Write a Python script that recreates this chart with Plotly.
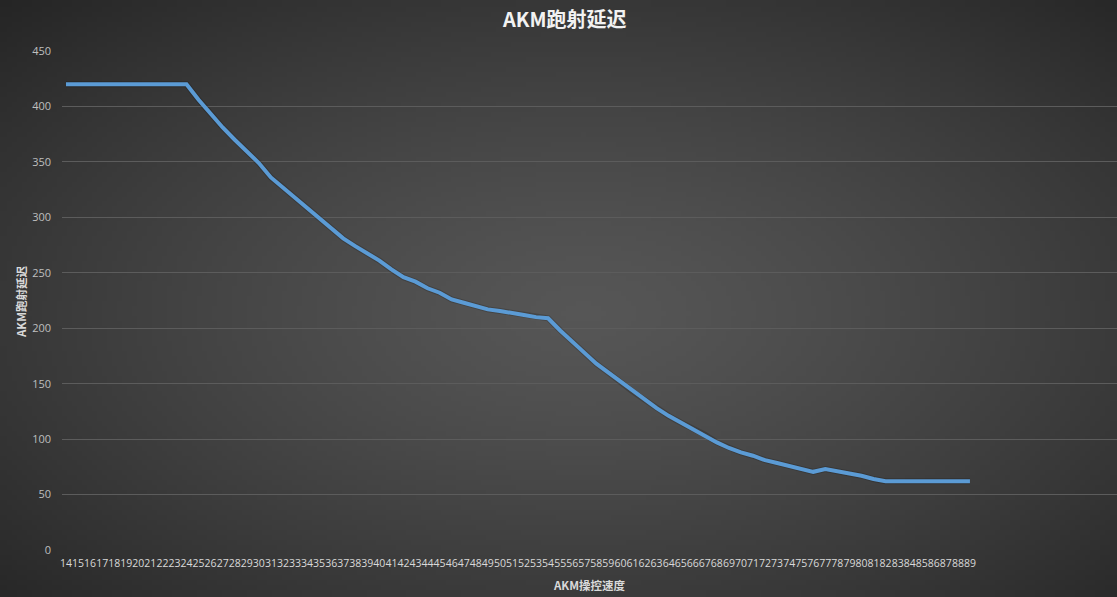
import base64, struct, zlib, math
import plotly.graph_objects as go

# ---- data ----
speed = list(range(14, 90))
delay = [420, 420, 420, 420, 420, 420, 420, 420, 420, 420, 420,   # 14-24
         406, 393, 381, 370, 360, 349, 336, 327, 318, 309, 300,    # 25-35
         290, 281, 274, 268, 261, 253, 246, 242, 236, 232, 226,    # 36-46
         223, 220, 217, 215.5, 214, 212, 210, 209,                 # 47-54
         198, 187.5, 178, 168, 160, 151, 143, 135.6,               # 55-62
         128, 121, 115, 110, 104, 97, 92, 88, 85, 81, 78.5,        # 63-73
         76, 73, 70.5, 73, 71, 69.5, 67, 64, 62,                   # 74-82
         62, 62, 62, 62, 62, 62, 62]                               # 83-89
x_labels = [str(s) for s in speed]
y_ticks = [0, 50, 100, 150, 200, 250, 300, 350, 400, 450]

title = "AKM跑射延迟"
x_title = "AKM操控速度"
y_title = "AKM跑射延迟"

# ---- background radial gradient as png ----
W, H = 1117, 597
ML, MR, MT, MB = 62, 0, 51, 47
gw, gh = 224, 120
cx, cy = gw * 0.52, gh * 0.52
rows = []
for j in range(gh):
    row = bytearray([0])
    for i in range(gw):
        dx = (i - cx) / cx
        dy = (j - cy) / cy
        r = min(1.0, math.sqrt(dx * dx + dy * dy) / math.sqrt(2))
        v = int(round(0x56 - (0x56 - 0x25) * (r ** 1.3)))
        row += bytes([v, v, v])
    rows.append(bytes(row))
raw = b"".join(rows)

def chunk(tag, data):
    c = struct.pack(">I", len(data)) + tag + data
    return c + struct.pack(">I", zlib.crc32(tag + data) & 0xffffffff)

png = b"\x89PNG\r\n\x1a\n" + chunk(b"IHDR", struct.pack(">IIBBBBB", gw, gh, 8, 2, 0, 0, 0)) \
      + chunk(b"IDAT", zlib.compress(raw, 9)) + chunk(b"IEND", b"")
bg_src = "data:image/png;base64," + base64.b64encode(png).decode()

pw, ph = W - ML - MR, H - MT - MB

fig = go.Figure()
fig.add_trace(go.Scatter(x=speed, y=delay, mode="lines",
                         line=dict(color="rgba(0,0,0,0.18)", width=6),
                         hoverinfo="skip", showlegend=False))
fig.add_trace(go.Scatter(x=speed, y=delay, mode="lines",
                         line=dict(color="#5b9bd5", width=4),
                         showlegend=False, name=y_title))

fig.update_layout(
    width=W, height=H,
    margin=dict(l=ML, r=MR, t=MT, b=MB),
    paper_bgcolor="#3a3a3a",
    plot_bgcolor="rgba(0,0,0,0)",
    showlegend=False,
    images=[dict(source=bg_src, xref="paper", yref="paper",
                 x=-ML / pw, y=1 + MT / ph, sizex=W / pw, sizey=H / ph,
                 xanchor="left", yanchor="top", sizing="stretch", layer="below")],
    xaxis=dict(range=[13.67, 101.2], tickmode="array", tickvals=speed, ticktext=x_labels,
               tickangle=0, showgrid=False, zeroline=False, showline=False,
               ticks="", ticklabelstandoff=5,
               tickfont=dict(family="Open Sans", size=10.5, color="#d9d9d9")),
    yaxis=dict(range=[0, 450], tickmode="array", tickvals=y_ticks,
               showgrid=True, gridcolor="#5c5c5c", gridwidth=1, zeroline=False,
               showline=False, ticks="", ticklabelstandoff=10,
               tickfont=dict(family="Open Sans", size=11, color="#bfbfbf")),
    annotations=[
        dict(text="<b>" + title + "</b>", xref="paper", yref="paper",
             x=(W / 2 + 6 - ML) / pw, y=1 + (MT - 19) / ph, xanchor="center", yanchor="middle",
             showarrow=False, font=dict(family="Noto Sans CJK SC", size=20, color="#f2f2f2")),
        dict(text="<b>" + x_title + "</b>", xref="paper", yref="paper",
             x=0.5, y=-(585 - (H - MB)) / ph, xanchor="center", yanchor="middle",
             showarrow=False, font=dict(family="Noto Sans CJK SC", size=11.5, color="#d9d9d9")),
        dict(text="<b>" + y_title + "</b>", xref="paper", yref="paper",
             x=-(ML - 21) / pw, y=(H - MB - 302) / ph, xanchor="center", yanchor="middle",
             textangle=-90, showarrow=False,
             font=dict(family="Noto Sans CJK SC", size=11.5, color="#d9d9d9")),
    ],
)

fig.write_html("out.html", config={"displayModeBar": False},
               post_script="document.body.style.margin='0';document.body.style.overflow='hidden';")
